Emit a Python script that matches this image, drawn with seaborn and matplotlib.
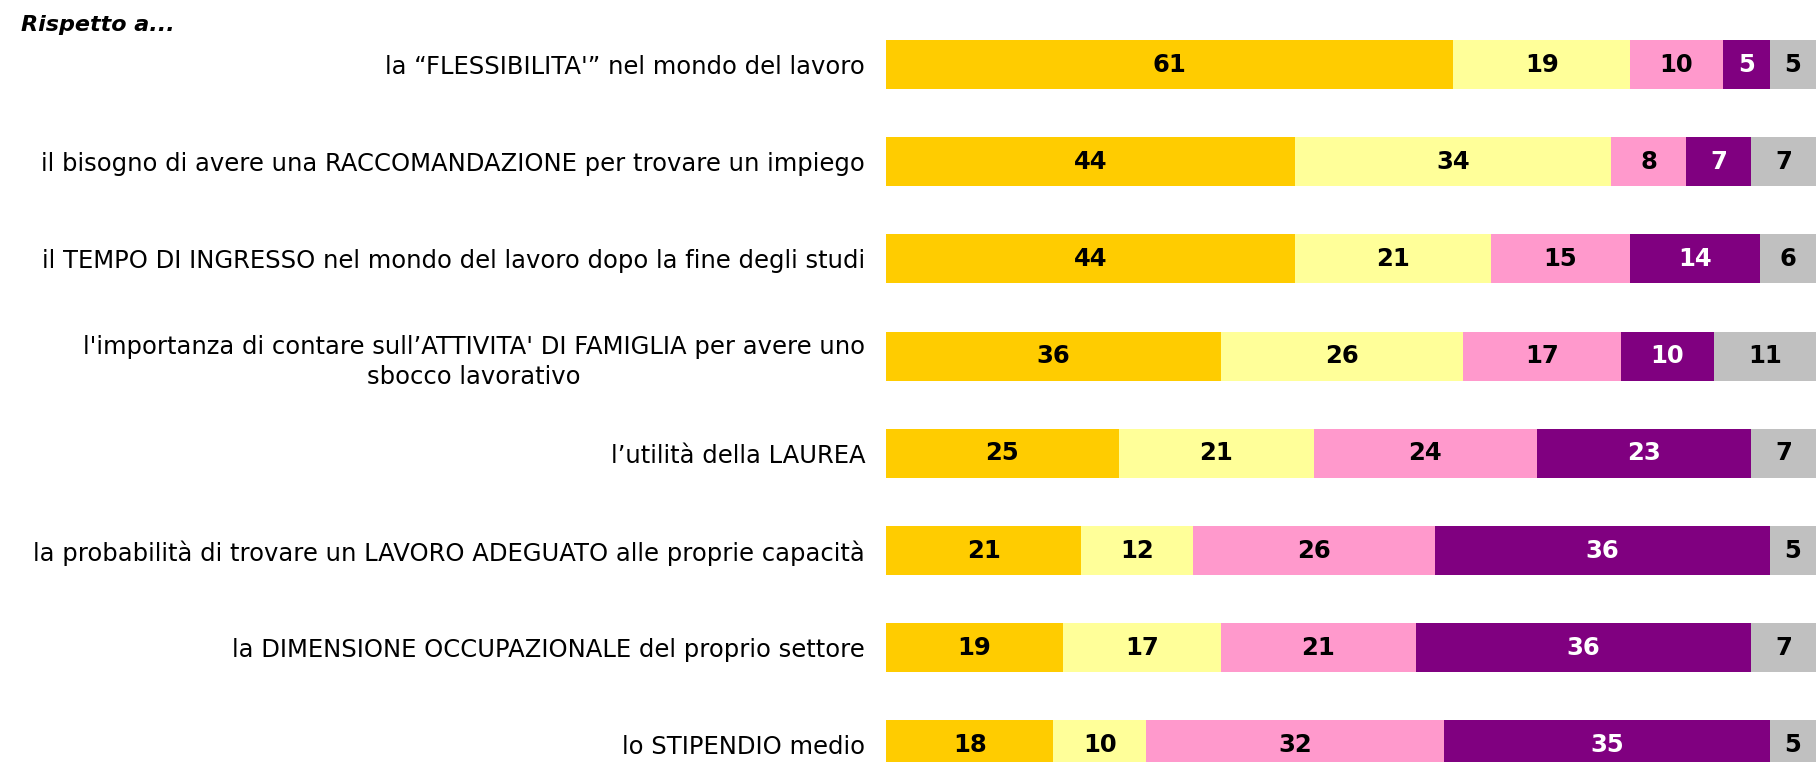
import numpy as np
import pandas as pd
import seaborn as sns
import matplotlib.pyplot as plt

categories = [
    "la \u201cFLESSIBILITA'\u201d nel mondo del lavoro",
    "il bisogno di avere una RACCOMANDAZIONE per trovare un impiego",
    "il TEMPO DI INGRESSO nel mondo del lavoro dopo la fine degli studi",
    "l'importanza di contare sull\u2019ATTIVITA' DI FAMIGLIA per avere uno\nsbocco lavorativo",
    "l\u2019utilit\u00e0 della LAUREA",
    "la probabilit\u00e0 di trovare un LAVORO ADEGUATO alle proprie capacit\u00e0",
    "la DIMENSIONE OCCUPAZIONALE del proprio settore",
    "lo STIPENDIO medio",
]
s1 = [61, 44, 44, 36, 25, 21, 19, 18]
s2 = [19, 34, 21, 26, 21, 12, 17, 10]
s3 = [10, 8, 15, 17, 24, 26, 21, 32]
s4 = [5, 7, 14, 10, 23, 36, 36, 35]
s5 = [5, 7, 6, 11, 7, 5, 7, 5]

series = [s1, s2, s3, s4, s5]
colors = ["#FFCC00", "#FFFF99", "#FF99CC", "#800080", "#C0C0C0"]
text_colors = ["black", "black", "black", "white", "black"]

sns.set_style("white")
plt.rcParams['font.family'] = ['DejaVu Sans']
plt.rcParams['text.color'] = 'black'

fig = plt.figure(figsize=(18.16, 7.62), dpi=100)
ax = fig.add_axes([886 / 1816, 0, 930 / 1816, 1])

cum = np.cumsum(np.array(series), axis=0)
# draw cumulative bars from the longest to the shortest so they stack
for k in range(len(series) - 1, -1, -1):
    df = pd.DataFrame({"cat": categories, "val": cum[k]})
    sns.barplot(data=df, x="val", y="cat", order=categories, color=colors[k],
                saturation=1, width=0.504, errorbar=None, ax=ax, linewidth=0)

for k, s in enumerate(series):
    for i, v in enumerate(s):
        center = cum[k][i] - v / 2
        ax.text(center, i, str(v), ha="center", va="center", fontsize=17.5,
                fontweight="bold", color=text_colors[k])

ax.set_xlim(0, 100)
ax.set_ylim(7.176, -0.664)
ax.set_xlabel("")
ax.set_ylabel("")
ax.set_xticks([])
ax.tick_params(axis="y", length=0, pad=15, labelsize=17.5, labelcolor="black")
for t in ax.get_yticklabels():
    t.set_multialignment("center")
    t.set_linespacing(1.33)
sns.despine(ax=ax, left=True, bottom=True)

fig.text(21 / 1816, 1 - 25 / 762, "Rispetto a...", fontsize=16, fontweight="bold",
         fontstyle="italic", va="center", ha="left", color="black")

fig.savefig("out.png", dpi=100)
